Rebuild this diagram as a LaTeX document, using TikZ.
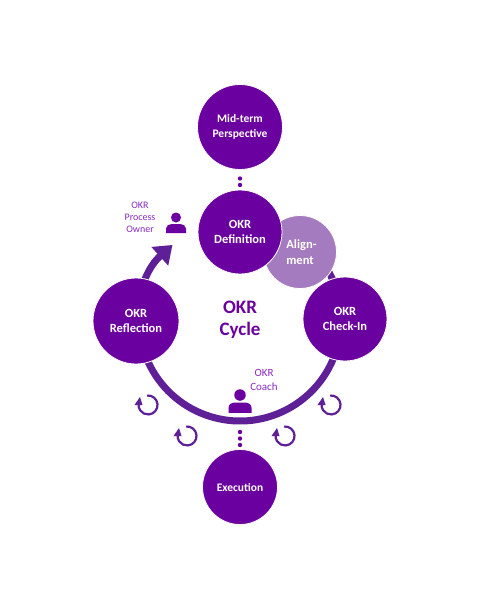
\documentclass[tikz,border=0pt]{standalone}
\usepackage{fontspec}
\setmainfont{Carlito}
\usetikzlibrary{arrows.meta}
\definecolor{deep}{HTML}{6A00A0}
\definecolor{soft}{HTML}{A57BC0}
\definecolor{ringc}{HTML}{5F1F96}
\definecolor{lab}{HTML}{8A2BC2}
\tikzset{
  x=1pt,y=-1pt,
  disc/.style={circle,fill=deep,draw=white,line width=0.8pt,inner sep=0pt,text=white,font=\bfseries\fontsize{12.5}{15.5}\selectfont,align=center},
  softdisc/.style={disc,fill=soft},
  small/.style={text=lab,font=\fontsize{10}{12}\selectfont,align=center,inner sep=0pt},
  dotm/.style={circle,fill=deep,inner sep=0pt,minimum size=4.4pt}
}
\newcommand{\personicon}[3]{%
  \begin{scope}[shift={(#1,#2)},scale=#3]
  \fill[deep] (0,-6.5) circle (5);
  \fill[deep] (-10,9) -- (-10,4.5) .. controls (-10,1.5) and (-7,0) .. (-4,0) -- (4,0) .. controls (7,0) and (10,1.5) .. (10,4.5) -- (10,9) -- cycle;
  \end{scope}
}
\newcommand{\loopicon}[2]{%
  \begin{scope}[shift={(#1,#2)}]
  \draw[ringc,line width=2.2pt] (-0.8,-9.5) arc[start angle=-95,end angle=185,radius=9.5];
  \fill[ringc] (-13.5,0) -- (-5.5,0) -- (-8,-8) -- cycle;
  \end{scope}
}
\begin{document}
\begin{tikzpicture}
\useasboundingbox (0,0) rectangle (480,600);
\fill[white] (0,0) rectangle (480,600);
\coordinate (ringstart) at (327.5,269.5);
\draw[ringc,line width=7pt,-{Triangle[length=17pt,width=24pt]}] (ringstart) arc[start angle=-30,end angle=228,radius=101];
\node[disc,minimum size=85pt,font=\bfseries\fontsize{11.5}{15.5}\selectfont] (mid) at (240,127) {Mid-term\\Perspective};
\node[softdisc,minimum size=73pt] (align) at (300,252) {\hspace*{3pt}Align-\\ment};
\node[disc,minimum size=84pt] (def) at (240,232) {OKR\\Definition};
\node[disc,minimum size=86pt] (refl) at (136,321) {OKR\\Reflection};
\node[disc,minimum size=84pt] (check) at (345,319) {OKR\\Check-In};
\node[disc,minimum size=75pt,font=\bfseries\fontsize{11.5}{15.5}\selectfont] (exec) at (240,487) {Execution};
\node[text=deep,font=\bfseries\fontsize{19}{22.5}\selectfont,align=center,inner sep=0pt] (cyc) at (240,320) {OKR\\Cycle};
\node[small] (ow) at (140,217.5) {OKR\\Process\\Owner};
\node[small,font=\fontsize{11}{14}\selectfont] (co) at (264,380) {OKR\\Coach};
\personicon{176}{224}{1}
\personicon{240}{402.5}{1.15}
\loopicon{148}{405}
\loopicon{187}{436}
\loopicon{285}{436}
\loopicon{331}{405}
\foreach \y [count=\i] in {178.5,185}{\node[dotm] (t\i) at (240,\y) {};}
\foreach \y [count=\i] in {432,438.5,445}{\node[dotm] (b\i) at (240,\y) {};}
\end{tikzpicture}
\end{document}
